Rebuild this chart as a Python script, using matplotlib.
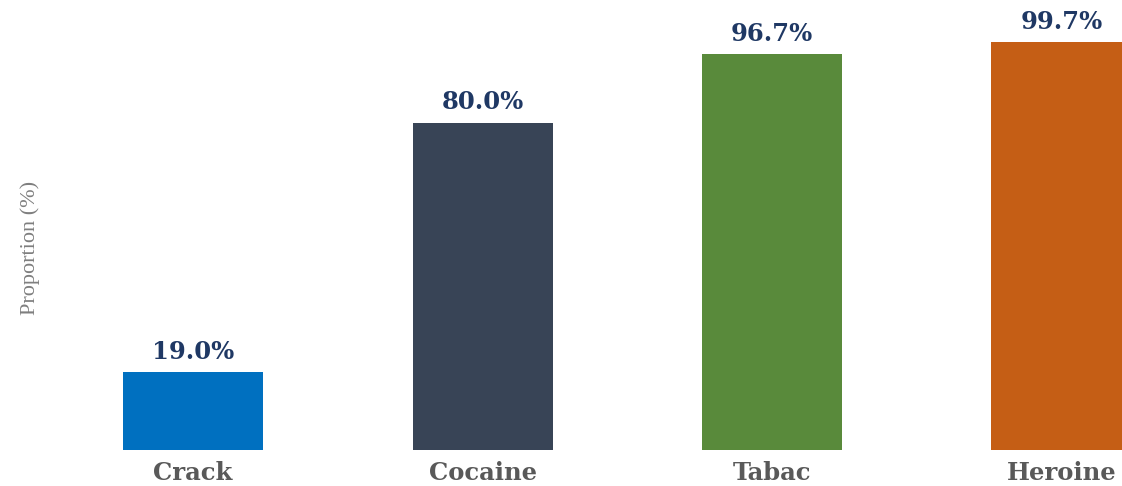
import matplotlib
matplotlib.use("Agg")
from matplotlib import pyplot as plt

categories = ["Crack", "Cocaine", "Tabac", "Heroine"]
values = [19.0, 80.0, 96.7, 99.7]
colors = ["#0070C0", "#384456", "#598A3B", "#C55E15"]

fig = plt.figure(figsize=(11.22, 4.86), dpi=100)
ax = fig.add_axes([0, 36 / 486, 1, 450 / 486])

x = list(range(len(categories)))
ax.bar(x, values, width=0.484, color=colors)

for xi, v in zip(x, values):
    ax.annotate(f"{v:.1f}%", (xi, v), xytext=(0, 6), textcoords="offset points",
                ha="center", va="bottom", fontsize=17.5, fontweight="bold",
                family="DejaVu Serif", color="#1F3864")

ax.set_xlim(-0.667, 3.209)
ax.set_ylim(0, 110)
ax.set_xticks(x)
ax.set_xticklabels(categories, fontsize=17.5, fontweight="bold",
                   family="DejaVu Serif", color="#595959")
ax.tick_params(axis="x", length=0, pad=8)
ax.set_yticks([])
for s in ax.spines.values():
    s.set_visible(False)

fig.text(0.027, 0.49, "Proportion (%)", rotation=90, ha="center", va="center",
         fontsize=16, family="Liberation Serif", color="#7F7F7F")

fig.savefig("out.png", dpi=100)
